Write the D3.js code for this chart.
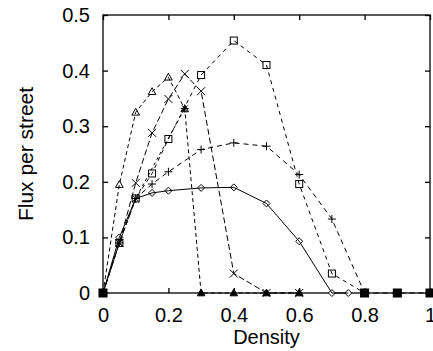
<!DOCTYPE html>
<html>
<head>
<meta charset="utf-8">
<script src="https://cdn.jsdelivr.net/npm/d3@7"></script>
<style>
  body { margin: 0; background: #fff; }
  svg { display: block; font-family: "Liberation Sans", Arial, sans-serif; }
</style>
</head>
<body>
<div id="chart"></div>
<script>
// values
const xTicks = [0, 0.2, 0.4, 0.6, 0.8, 1];
const yTicks = [0, 0.1, 0.2, 0.3, 0.4, 0.5];

const diamondX = [0, 0.05, 0.1, 0.15, 0.2, 0.3, 0.4, 0.5, 0.6, 0.7, 0.75];
const diamondY = [0, 0.1, 0.17, 0.18, 0.184, 0.189, 0.19, 0.161, 0.093, 0, 0];

const plusX = [0, 0.05, 0.1, 0.15, 0.2, 0.3, 0.4, 0.5, 0.6, 0.7, 0.8];
const plusY = [0, 0.09, 0.17, 0.196, 0.218, 0.258, 0.27, 0.264, 0.213, 0.133, 0];

const boxX = [0, 0.05, 0.1, 0.15, 0.2, 0.3, 0.4, 0.5, 0.6, 0.7, 0.8];
const boxY = [0, 0.09, 0.17, 0.215, 0.277, 0.392, 0.454, 0.41, 0.196, 0.035, 0];

const crossX = [0, 0.05, 0.1, 0.15, 0.2, 0.25, 0.3, 0.4, 0.5, 0.6];
const crossY = [0, 0.09, 0.198, 0.288, 0.349, 0.394, 0.363, 0.035, 0, 0];

const triX = [0, 0.05, 0.1, 0.15, 0.2, 0.25, 0.3, 0.4, 0.5, 0.6];
const triY = [0, 0.195, 0.325, 0.362, 0.388, 0.331, 0, 0, 0, 0];

const starX = [0, 0.05, 0.1, 0.25];
const starY = [0, 0.09, 0.17, 0.332];

const fillX = [0.8, 0.9, 1];
const fillY = [0, 0, 0];
const fillStartX = [0];
const fillStartY = [0];

const zip = (xs, ys) => xs.map((x, i) => ({ x: x, y: ys[i] }));

const series = [
  { pts: zip(diamondX, diamondY), dash: null, mark: 'diamond' },
  { pts: zip(plusX, plusY), dash: '5,4', mark: 'plus' },
  { pts: zip(boxX, boxY), dash: '4,4', mark: 'box' },
  { pts: zip(crossX, crossY), dash: '6,3', mark: 'cross' },
  { pts: zip(triX, triY), dash: '4,3', mark: 'triangle' },
  { pts: zip(starX, starY), dash: '3,3', mark: 'star' },
  { pts: zip(fillX, fillY), dash: '5,4', mark: 'fill' },
  { pts: zip(fillStartX, fillStartY), dash: null, mark: 'fill' }
];

const W = 433, H = 351;
const m = { top: 15, right: 3, bottom: 58, left: 103 };
const w = W - m.left - m.right;
const h = H - m.top - m.bottom;

const svg = d3.select('#chart').append('svg')
  .attr('width', W).attr('height', H);
const g = svg.append('g')
  .attr('transform', 'translate(' + m.left + ',' + m.top + ')');

const x = d3.scaleLinear().domain([0, 1]).range([0, w]);
const y = d3.scaleLinear().domain([0, 0.5]).range([h, 0]);

// gnuplot style: ticks inside on every side
const fmt = (d) => (d === 0 ? '0' : d === 1 ? '1' : d3.format('.1f')(d));

const xAxis = g.append('g').attr('transform', 'translate(0,' + h + ')')
  .call(d3.axisBottom(x).tickValues(xTicks).tickSize(-5).tickPadding(15).tickFormat(fmt));
const xTop = g.append('g')
  .call(d3.axisTop(x).tickValues(xTicks).tickSize(-5).tickFormat(''));
const yAxis = g.append('g')
  .call(d3.axisLeft(y).tickValues(yTicks).tickSize(-5).tickPadding(13).tickFormat(fmt));
const yRight = g.append('g').attr('transform', 'translate(' + w + ',0)')
  .call(d3.axisRight(y).tickValues(yTicks).tickSize(-5).tickFormat(''));

[xAxis, xTop, yAxis, yRight].forEach((a) => {
  a.select('.domain').remove();
  a.selectAll('line').attr('stroke', '#000').attr('stroke-width', 1.3);
  a.selectAll('text').attr('font-size', 20).attr('fill', '#000');
});

g.append('rect')
  .attr('width', w).attr('height', h)
  .attr('fill', 'none').attr('stroke', '#000').attr('stroke-width', 1.3);

const line = d3.line().x((d) => x(d.x)).y((d) => y(d.y));

const markers = g.append('g');

series.forEach((s) => {
  g.append('path')
    .datum(s.pts)
    .attr('d', line)
    .attr('fill', 'none')
    .attr('stroke', '#000')
    .attr('stroke-width', 1)
    .attr('stroke-dasharray', s.dash);

  s.pts.forEach((p) => {
    const cx = x(p.x), cy = y(p.y);
    const mk = markers.append('g').attr('transform', 'translate(' + cx + ',' + cy + ')')
      .attr('stroke', '#000').attr('stroke-width', 1).attr('fill', 'none');
    if (s.mark === 'diamond') {
      mk.append('path').attr('d', 'M0,-3.5L3.5,0L0,3.5L-3.5,0Z').attr('fill', '#fff');
    } else if (s.mark === 'plus') {
      mk.append('path').attr('d', 'M-4,0H4M0,-4V4');
    } else if (s.mark === 'box') {
      mk.append('rect').attr('x', -3.5).attr('y', -3.5).attr('width', 7).attr('height', 7).attr('fill', '#fff');
    } else if (s.mark === 'cross') {
      mk.append('path').attr('d', 'M-4,-4L4,4M-4,4L4,-4');
    } else if (s.mark === 'triangle') {
      mk.append('path').attr('d', 'M0,-4L3.8,2.8H-3.8Z').attr('fill', p.y === 0 ? '#000' : '#fff');
    } else if (s.mark === 'star') {
      mk.append('path').attr('d', 'M-4,0H4M0,-4V4M-3,-3L3,3M-3,3L3,-3');
    } else if (s.mark === 'fill') {
      mk.append('rect').attr('x', -4).attr('y', -4).attr('width', 8).attr('height', 8).attr('fill', '#000');
    }
  });
});

svg.append('text')
  .attr('x', m.left + w / 2).attr('y', 344)
  .attr('text-anchor', 'middle').attr('font-size', 20)
  .text('Density');

svg.append('text')
  .attr('transform', 'translate(33,' + (m.top + h / 2) + ') rotate(-90)')
  .attr('text-anchor', 'middle').attr('font-size', 21)
  .text('Flux per street');
</script>
</body>
</html>
